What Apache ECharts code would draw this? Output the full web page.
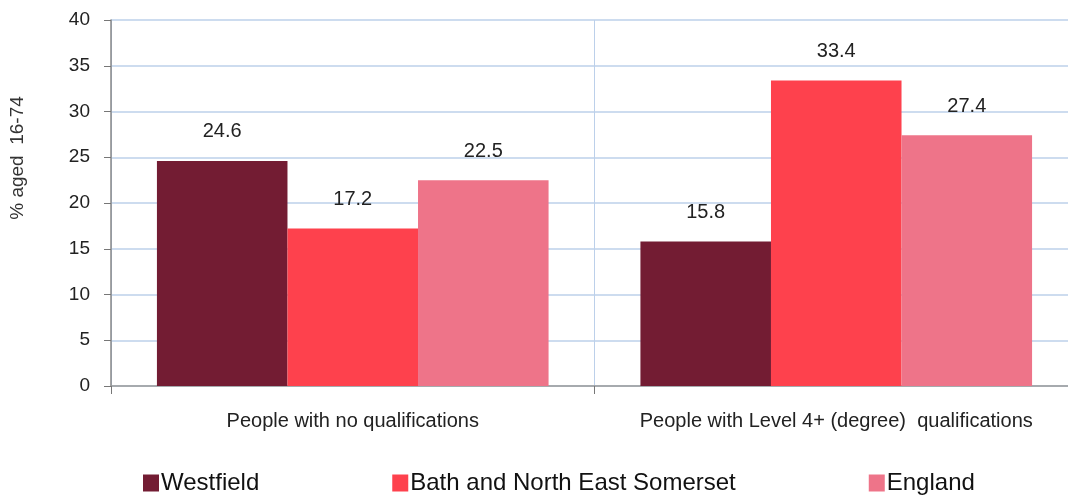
<!DOCTYPE html>
<html>
<head>
<meta charset="utf-8">
<script src="https://cdn.jsdelivr.net/npm/echarts@6/dist/echarts.min.js"></script>
<style>
  html, body { margin: 0; padding: 0; background: #fff; overflow: hidden; }
  #chart { width: 1090px; height: 495px; }
</style>
</head>
<body>
<div id="chart"></div>
<script>
const categories = ['People with no qualifications', 'People with Level 4+ (degree)  qualifications'];
const westfield = [24.6, 15.8];
const bathNes = [17.2, 33.4];
const england = [22.5, 27.4];
const yTicks = [0, 5, 10, 15, 20, 25, 30, 35, 40];

const colors = ['#731c33', '#fe414d', '#ee7489'];
const font = 'Liberation Sans, Arial, sans-serif';

let chart = echarts.init(document.getElementById('chart'));

const labelStyle = {
    show: true,
    position: 'top',
    distance: 19,
    color: '#222',
    fontSize: 20,
    fontFamily: font
};

const option = {
    animation: false,
    grid: {
        left: 110,
        top: 20,
        width: 968,
        height: 366
    },
    legend: {
        left: 138,
        top: 466,
        itemWidth: 16,
        itemHeight: 17,
        itemGap: 133,
        icon: 'rect',
        textStyle: {
            fontSize: 24,
            color: '#111',
            fontFamily: font,
            padding: [0, 0, 0, -3]
        },
        data: ['Westfield', 'Bath and North East Somerset', 'England']
    },
    xAxis: {
        type: 'category',
        data: categories,
        axisLine: { lineStyle: { color: '#999', width: 1.5 } },
        axisTick: { show: true, interval: 0, length: 8, lineStyle: { color: '#777' } },
        axisLabel: {
            interval: 0,
            margin: 25,
            fontSize: 20,
            color: '#222',
            fontFamily: font
        },
        splitLine: { show: true, interval: 0, lineStyle: { color: '#bcd0ea', width: 1 } }
    },
    yAxis: {
        type: 'value',
        min: yTicks[0],
        max: yTicks[yTicks.length - 1],
        interval: 5,
        name: '% aged  16-74',
        nameLocation: 'middle',
        nameGap: 84,
        nameTextStyle: {
            fontSize: 19,
            color: '#333',
            fontFamily: font,
            padding: [0, 0, 0, 90]
        },
        axisLine: { show: true, lineStyle: { color: '#888', width: 1.5 } },
        axisTick: { show: true, length: 7, lineStyle: { color: '#777' } },
        axisLabel: {
            margin: 21,
            fontSize: 19,
            color: '#222',
            fontFamily: font
        },
        splitLine: { lineStyle: { color: '#bcd0ea', width: 1.5 } }
    },
    series: [
        {
            name: 'Westfield',
            type: 'bar',
            data: westfield,
            barGap: '0%',
            barCategoryGap: '19%',
            itemStyle: { color: colors[0] },
            label: labelStyle
        },
        {
            name: 'Bath and North East Somerset',
            type: 'bar',
            data: bathNes,
            itemStyle: { color: colors[1] },
            label: labelStyle
        },
        {
            name: 'England',
            type: 'bar',
            data: england,
            itemStyle: { color: colors[2] },
            label: labelStyle
        }
    ]
};
chart.setOption(option);
</script>
</body>
</html>
